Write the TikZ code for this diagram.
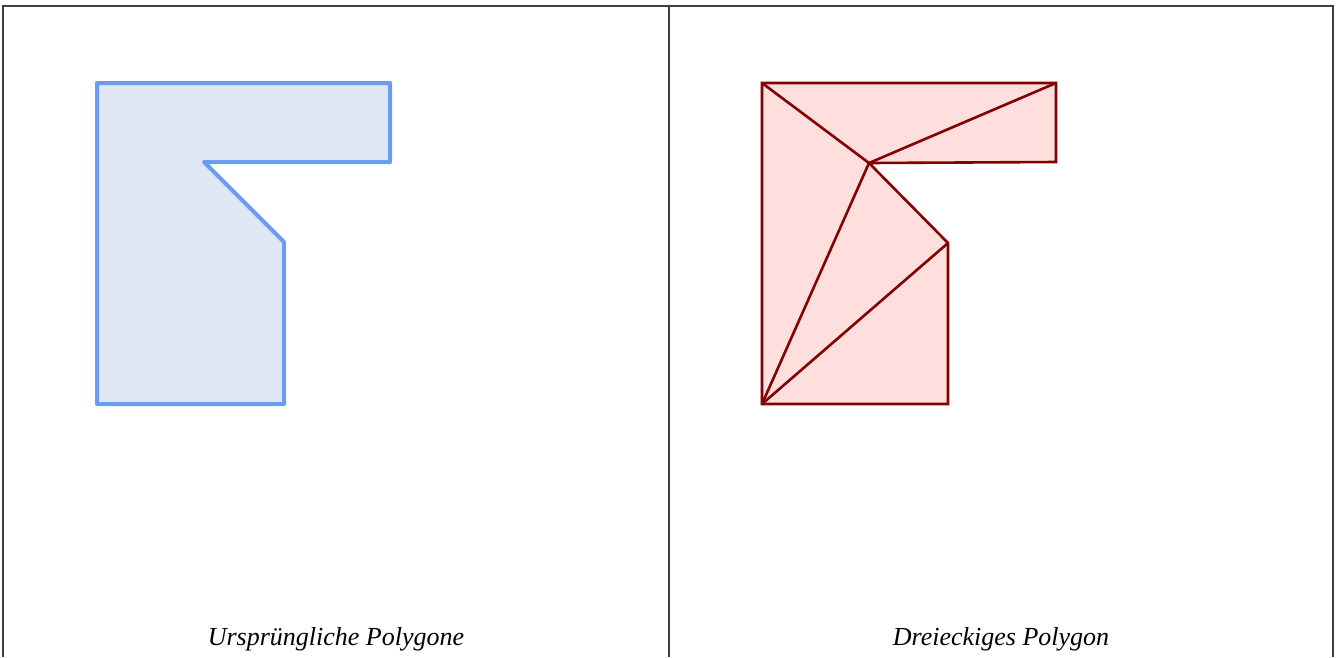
\documentclass[tikz,border=0pt]{standalone}
\usepackage{fontspec}
\setmainfont{Liberation Serif}
\usepackage{xcolor}
\usepackage{tikz}
\usetikzlibrary{calc}
\definecolor{polyblue}{RGB}{106, 156, 240}
\definecolor{polyfill}{RGB}{223, 230, 244}
\definecolor{tridark}{RGB}{130, 0, 0}
\definecolor{trifill}{RGB}{255, 222, 222}

\begin{document}
\begin{tikzpicture}[x=1pt, y=-1pt,
    panel/.style={draw=black!75, line width=1.2pt},
    caption/.style={font=\fontsize{26}{30}\selectfont\itshape, anchor=base}]
    \useasboundingbox (0,0) rectangle (1341,657);
    % frame and divider
    \coordinate (BL) at (3,657);
    \coordinate (TL) at (3,6);
    \coordinate (TR) at (1333,6);
    \coordinate (BR) at (1333,657);
    \coordinate (MT) at (669,6);
    \coordinate (MB) at (669,657);
    \draw[panel] (BL)--(TL)--(TR)--(BR);
    \draw[panel] (MT)--(MB);
    % original polygon
    \coordinate (A) at (97,83);
    \coordinate (B) at (390,83);
    \coordinate (C) at (390,162);
    \coordinate (D) at (204,162);
    \coordinate (E) at (284,242);
    \coordinate (F) at (284,404);
    \coordinate (G) at (97,404);
    \draw[polyblue, fill=polyfill, line width=4pt, line join=round]
        (A)--(B)--(C)--(D)--(E)--(F)--(G)--cycle;
    % triangulated polygon
    \coordinate (a) at (762,83);
    \coordinate (b) at (1056,83);
    \coordinate (c) at (1056,162);
    \coordinate (d) at (869,163);
    \coordinate (e) at (948,243);
    \coordinate (f) at (948,404);
    \coordinate (g) at (762,404);
    \draw[tridark, fill=trifill, line width=2.6pt]
        (a)--(b)--(c)--(d)--(e)--(f)--(g)--cycle;
    \foreach \p/\q in {a/d, b/d, d/g, e/g}
        \draw[tridark, line width=2.6pt] (\p)--(\q);
    % captions
    \node[caption] (cap1) at (336,645) {Ursprüngliche Polygone};
    \node[caption] (cap2) at (1001,645) {Dreieckiges Polygon};
\end{tikzpicture}
\end{document}
